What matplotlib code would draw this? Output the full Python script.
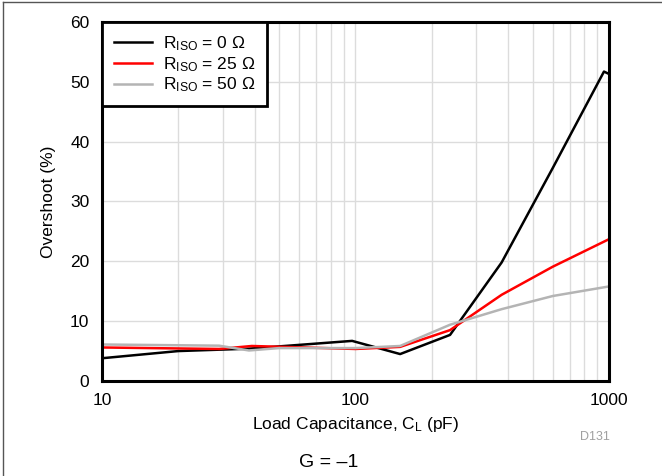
import matplotlib
matplotlib.use("Agg")
import matplotlib.pyplot as plt
from matplotlib.lines import Line2D

plt.rcParams['font.family'] = ['Liberation Sans', 'DejaVu Sans']

# Overshoot vs load capacitance, G = -1
cap_r0 = [10, 20, 38, 97, 150, 236, 377, 600, 955, 1000]
ovs_r0 = [3.8, 5.0, 5.4, 6.7, 4.5, 7.7, 19.8, 35.6, 51.7, 51.3]

cap_r25 = [10, 29, 39, 100, 150, 236, 377, 600, 1000]
ovs_r25 = [5.6, 5.35, 5.85, 5.35, 5.7, 8.5, 14.4, 19.1, 23.7]

cap_r50 = [10, 29, 38, 50, 100, 150, 236, 377, 600, 1000]
ovs_r50 = [6.1, 5.9, 5.1, 5.5, 5.5, 5.85, 9.4, 12.0, 14.2, 15.8]

labels = [r'$\mathregular{R_{ISO}}$ = 0 Ω',
          r'$\mathregular{R_{ISO}}$ = 25 Ω',
          r'$\mathregular{R_{ISO}}$ = 50 Ω']

fig = plt.figure(figsize=(6.62, 4.76), dpi=100)
ax = fig.add_axes([0.154, 0.1996, 0.766, 0.7544])

ax.plot(cap_r0, ovs_r0, color='black', lw=1.8, label=labels[0])
ax.plot(cap_r25, ovs_r25, color='#ff0000', lw=1.8, label=labels[1])
ax.plot(cap_r50, ovs_r50, color='#b4b4b4', lw=1.8, label=labels[2])

ax.set_xscale('log')
ax.set_xlim(10, 1000)
ax.set_ylim(0, 60)
ax.set_yticks(range(0, 61, 10))
ax.set_xticks([10, 100, 1000])
ax.set_xticklabels(['10', '100', '1000'])
ax.grid(True, which='both', color='#dcdcdc', lw=1)
ax.set_axisbelow(True)
ax.tick_params(which='both', length=0, labelsize=12.5, pad=9)
for s in ax.spines.values():
    s.set_linewidth(2.2)

ax.set_xlabel('Load Capacitance, $\\mathregular{C_L}$ (pF)', fontsize=12.5, labelpad=5)
ax.set_ylabel('Overshoot (%)', fontsize=12.5, labelpad=10)

leg = ax.legend(loc='upper left', borderaxespad=0, fancybox=False,
                fontsize=12.5, handlelength=2.2, labelspacing=0.12,
                borderpad=0.7, handletextpad=0.6)
leg.get_frame().set_edgecolor('black')
leg.get_frame().set_linewidth(2)
leg.get_frame().set_alpha(1)

fig.text(0.922, 0.081, 'D131', color='#a0a0a0', fontsize=9, ha='right', va='center')
fig.text(0.497, 0.028, 'G = \u20131', fontsize=14, ha='center', va='center')

# outer border (left and top edges visible)
fig.add_artist(Line2D([0.0045, 0.0045], [0, 0.996], transform=fig.transFigure, color='#555555', lw=1))
fig.add_artist(Line2D([0.0045, 1], [0.996, 0.996], transform=fig.transFigure, color='#555555', lw=1))

fig.savefig('out.png', dpi=100)
